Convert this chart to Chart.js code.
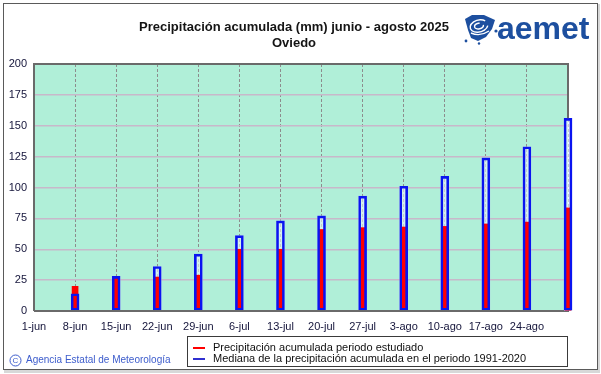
<!DOCTYPE html>
<html>
<head>
<meta charset="utf-8">
<script src="https://cdn.jsdelivr.net/npm/chart.js@4.4.1/dist/chart.umd.min.js"></script>
<style>
  html, body { margin: 0; padding: 0; background: #ffffff; }
  #wrap { position: relative; width: 601px; height: 374px; }
</style>
</head>
<body>
<div id="wrap"><canvas id="chart" width="601" height="374"></canvas></div>
<script>
// weekly dates, 1-jun to 31-ago
const fechas = ['1-jun', '8-jun', '15-jun', '22-jun', '29-jun', '6-jul', '13-jul', '20-jul', '27-jul', '3-ago', '10-ago', '17-ago', '24-ago', '31-ago'];
const tickLabels = ['1-jun', '8-jun', '15-jun', '22-jun', '29-jun', '6-jul', '13-jul', '20-jul', '27-jul', '3-ago', '10-ago', '17-ago', '24-ago', ''];
// mm accumulated
const estudiado = [null, 20, 27, 27.5, 29, 50, 50, 66, 67.5, 68, 68.5, 70.5, 72, 83.5];
const mediana = [null, 14, 28, 36, 46, 61, 73, 77, 93, 101, 109, 124, 133, 156];
const yTicks = [0, 25, 50, 75, 100, 125, 150, 175, 200];

const tituloLinea1 = 'Precipitación acumulada (mm) junio - agosto 2025';
const tituloLinea2 = 'Oviedo';
const leyenda = ['Precipitación acumulada periodo estudiado', 'Mediana de la precipitación acumulada en el periodo 1991-2020'];
const pie = 'Agencia Estatal de Meteorología';

const FONT = '"Liberation Sans", Arial, sans-serif';

//background of the plot + outer frame, title, logo, legend, footer
const fondo = {
    id: 'fondo',
    beforeDraw(chart) {
        const ctx = chart.ctx;
        const a = chart.chartArea;
        ctx.save();
        ctx.fillStyle = '#ffffff';
        ctx.fillRect(0, 0, chart.width, chart.height);
        ctx.fillStyle = '#b0efd8';
        ctx.fillRect(a.left, a.top, a.right - a.left, a.bottom - a.top);
        ctx.restore();
    },
    afterDraw(chart) {
        const ctx = chart.ctx;
        const a = chart.chartArea;
        ctx.save();
        // plot border
        ctx.strokeStyle = '#6a6a6a';
        ctx.lineWidth = 2;
        ctx.beginPath();
        ctx.moveTo(a.left, a.bottom);
        ctx.lineTo(a.left, a.top);
        ctx.lineTo(a.right, a.top);
        ctx.lineTo(a.right, chart.scales.y.getPixelForValue(mediana[mediana.length - 1]));
        ctx.moveTo(a.left, a.bottom);
        ctx.lineTo(a.right - 4, a.bottom);
        ctx.stroke();

        // outer frame
        ctx.strokeStyle = '#5a5a5a';
        ctx.lineWidth = 1;
        ctx.strokeRect(3.5, 3.5, 594, 366);
        ctx.fillStyle = '#d8d8d8';
        ctx.fillRect(4, 370, 596, 3);
        ctx.fillRect(598, 4, 2, 368);

        // title
        ctx.fillStyle = '#141414';
        ctx.font = 'bold 13px ' + FONT;
        ctx.textAlign = 'center';
        ctx.textBaseline = 'middle';
        ctx.fillText(tituloLinea1, 294, 27);
        ctx.fillText(tituloLinea2, 294, 43);

        // logo
        const azul = '#1d4f9f';
        ctx.fillStyle = azul;
        ctx.font = 'bold 32px ' + FONT;
        ctx.textAlign = 'left';
        ctx.textBaseline = 'alphabetic';
        ctx.fillText('aemet', 497, 39);
        ctx.beginPath();
        ctx.moveTo(465, 19);
        ctx.lineTo(472, 15);
        ctx.lineTo(484, 15);
        ctx.lineTo(495, 20);
        ctx.lineTo(492, 29);
        ctx.lineTo(486, 37);
        ctx.lineTo(478, 41);
        ctx.lineTo(471, 38);
        ctx.lineTo(468, 30);
        ctx.closePath();
        ctx.fill();
        ctx.strokeStyle = '#ffffff';
        ctx.lineWidth = 1.4;
        ctx.beginPath();
        ctx.ellipse(479, 26, 9, 6, -0.25, 0.3, Math.PI * 1.8);
        ctx.stroke();
        ctx.beginPath();
        ctx.ellipse(479, 26, 4.5, 2.8, -0.25, 0, Math.PI * 1.6);
        ctx.stroke();
        ctx.beginPath();
        ctx.moveTo(471, 33);
        ctx.quadraticCurveTo(480, 37, 489, 31);
        ctx.stroke();
        ctx.fillStyle = azul;
        ctx.beginPath();
        ctx.arc(496, 31, 1.6, 0, Math.PI * 2);
        ctx.fill();
        ctx.beginPath();
        ctx.arc(466, 41, 1.4, 0, Math.PI * 2);
        ctx.fill();
        ctx.beginPath();
        ctx.arc(479, 43.5, 1.2, 0, Math.PI * 2);
        ctx.fill();

        // legend box
        ctx.fillStyle = '#ffffff';
        ctx.fillRect(187, 336, 381, 31);
        ctx.strokeStyle = '#3a3a3a';
        ctx.lineWidth = 1;
        ctx.strokeRect(187.5, 336.5, 380, 30);
        ctx.lineWidth = 2;
        ctx.strokeStyle = '#ff0000';
        ctx.beginPath();
        ctx.moveTo(193, 348);
        ctx.lineTo(205, 348);
        ctx.stroke();
        ctx.strokeStyle = '#3030d0';
        ctx.beginPath();
        ctx.moveTo(193, 359);
        ctx.lineTo(205, 359);
        ctx.stroke();
        ctx.fillStyle = '#101010';
        ctx.font = '11px ' + FONT;
        ctx.textBaseline = 'middle';
        ctx.fillText(leyenda[0], 213, 348);
        ctx.fillText(leyenda[1], 213, 359);

        // footer
        ctx.fillStyle = '#3c5ccc';
        ctx.strokeStyle = '#3c5ccc';
        ctx.lineWidth = 1;
        ctx.beginPath();
        ctx.arc(15.5, 360.5, 5.5, 0, Math.PI * 2);
        ctx.stroke();
        ctx.font = '8px ' + FONT;
        ctx.textAlign = 'center';
        ctx.fillText('C', 15.5, 361);
        ctx.font = '10px ' + FONT;
        ctx.textAlign = 'left';
        ctx.fillText(pie, 26, 360);
        ctx.restore();
    }
};

const ctx = document.getElementById('chart').getContext('2d');
new Chart(ctx, {
    type: 'bar',
    data: {
        labels: fechas,
        datasets: [
            { //blue outline on top
                label: leyenda[1],
                data: mediana,
                backgroundColor: 'rgba(0,0,0,0)',
                borderColor: '#0a14f0',
                borderWidth: 2,
                borderSkipped: false,
                barThickness: 8,
                grouped: false,
                clip: false,
                order: 1
            },
            {
                label: leyenda[0],
                data: estudiado,
                backgroundColor: '#ff0000',
                borderWidth: 0,
                barThickness: 6,
                grouped: false,
                clip: false,
                order: 2
            },
            { //pale fill of the median bar
                label: 'fill',
                data: mediana,
                backgroundColor: 'rgba(236,244,248,0.6)',
                borderWidth: 0,
                barThickness: 8,
                grouped: false,
                clip: false,
                order: 3
            }
        ]
    },
    plugins: [fondo],
    options: {
        responsive: false,
        animation: false,
        layout: { padding: { left: 0, top: 64, right: 33, bottom: 0 } },
        plugins: {
            legend: { display: false },
            title: { display: false },
            tooltip: { enabled: false }
        },
        scales: {
            x: {
                offset: false,
                afterFit: s => { s.height = 63; },
                grid: { offset: false, color: '#8c8c8c', lineWidth: 1, drawTicks: false },
                border: { dash: [3, 2], color: '#6a6a6a' },
                ticks: {
                    autoSkip: false,
                    maxRotation: 0,
                    padding: 9,
                    color: '#14143a',
                    font: { family: FONT, size: 11 },
                    callback: (v, i) => tickLabels[i]
                }
            },
            y: {
                min: 0,
                max: 200,
                afterFit: s => { s.width = 34; },
                afterBuildTicks: s => { s.ticks = yTicks.map(v => ({ value: v })); },
                grid: { color: '#c8b8ca', lineWidth: 1.5, drawTicks: false },
                border: { color: '#6a6a6a' },
                ticks: {
                    padding: 7,
                    color: '#14143a',
                    font: { family: FONT, size: 11 }
                }
            }
        }
    }
});
</script>
</body>
</html>
